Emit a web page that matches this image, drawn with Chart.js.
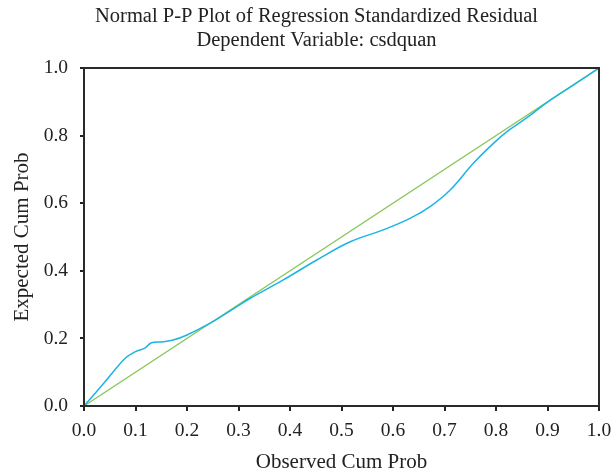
<!DOCTYPE html>
<html>
<head>
<meta charset="utf-8">
<script src="https://cdn.jsdelivr.net/npm/chart.js@4.4.0/dist/chart.umd.min.js"></script>
<style>
  html, body { margin: 0; padding: 0; background: #fff; }
  #wrap { width: 611px; height: 473px; }
</style>
</head>
<body>
<div id="wrap"><canvas id="ppChart" width="611" height="473"></canvas></div>
<script>
// observed vs expected cumulative probability
const observedCum = [0, 0.04, 0.08, 0.10, 0.118, 0.131, 0.154, 0.173, 0.20, 0.245, 0.28, 0.322, 0.387, 0.452, 0.517, 0.581, 0.633, 0.672, 0.711, 0.756, 0.795, 0.825, 0.86, 0.90, 0.95, 1.0];
const expectedCum = [0, 0.07, 0.141, 0.161, 0.171, 0.187, 0.190, 0.195, 0.210, 0.245, 0.278, 0.318, 0.373, 0.432, 0.486, 0.521, 0.555, 0.590, 0.639, 0.718, 0.777, 0.816, 0.853, 0.899, 0.949, 1.0];
const refLineX = [0, 1];
const refLineY = [0, 1];
const titleLines = ['Normal P-P Plot of Regression Standardized Residual', 'Dependent Variable: csdquan'];

const serif = "'Liberation Serif', 'Times New Roman', serif";

// box around the plot area + the two title lines
const frame = {
    id: 'frame',
    afterDraw(chart) {
        const a = chart.chartArea;
        const ctx = chart.ctx;
        ctx.save();
        ctx.strokeStyle = '#2a2a2a';
        ctx.lineWidth = 2;
        ctx.strokeRect(a.left, a.top, a.right - a.left, a.bottom - a.top);

        ctx.fillStyle = '#222';
        ctx.font = '20.5px ' + serif;
        ctx.textAlign = 'center';
        ctx.textBaseline = 'middle';
        const cx = (a.left + a.right) / 2 - 25;
        titleLines.forEach((t, i) => ctx.fillText(t, cx, 17 + i * 23.5));
        ctx.restore();
    }
};

new Chart(document.getElementById('ppChart'), {
    type: 'scatter',
    data: {
        datasets: [
            {
                label: 'Expected',
                data: observedCum.map((v, i) => ({ x: v, y: expectedCum[i] })),
                showLine: true,
                borderColor: '#1cb4e6',
                borderWidth: 1.5,
                pointRadius: 0,
                tension: 0.4,
                order: 1
            },
            {
                label: 'Reference',
                data: refLineX.map((v, i) => ({ x: v, y: refLineY[i] })),
                showLine: true,
                borderColor: '#88c65a',
                borderWidth: 1.3,
                pointRadius: 0,
                order: 2
            }
        ]
    },
    options: {
        responsive: false,
        animation: false,
        layout: { padding: { left: 0, right: 12, top: 68, bottom: 0 } },
        plugins: {
            legend: { display: false },
            tooltip: { enabled: false },
            title: { display: false }
        },
        scales: {
            x: {
                type: 'linear',
                min: 0,
                max: 1,
                border: { display: false },
                grid: { drawOnChartArea: false, drawTicks: true, tickLength: 5, color: '#222', lineWidth: 2 },
                ticks: {
                    stepSize: 0.1,
                    color: '#222',
                    padding: 8,
                    maxRotation: 0,
                    font: { family: serif, size: 19.5 },
                    callback: v => v.toFixed(1)
                },
                title: {
                    display: true,
                    text: 'Observed Cum Prob',
                    color: '#222',
                    font: { family: serif, size: 21 },
                    padding: { top: 0, bottom: -2 }
                },
                afterFit: scale => {
                    scale.height = 67;
                    scale.paddingRight = 0;
                    scale.paddingLeft = 0;
                }
            },
            y: {
                type: 'linear',
                min: 0,
                max: 1,
                border: { display: false },
                grid: { drawOnChartArea: false, drawTicks: true, tickLength: 4, color: '#222', lineWidth: 2 },
                ticks: {
                    stepSize: 0.2,
                    color: '#222',
                    padding: 12,
                    font: { family: serif, size: 19.5 },
                    callback: v => v.toFixed(1)
                },
                title: {
                    display: true,
                    text: 'Expected Cum Prob',
                    color: '#222',
                    font: { family: serif, size: 21 },
                    padding: { top: 10, bottom: 0 }
                },
                afterFit: scale => { scale.width = 84; }
            }
        }
    },
    plugins: [frame]
});
</script>
</body>
</html>
